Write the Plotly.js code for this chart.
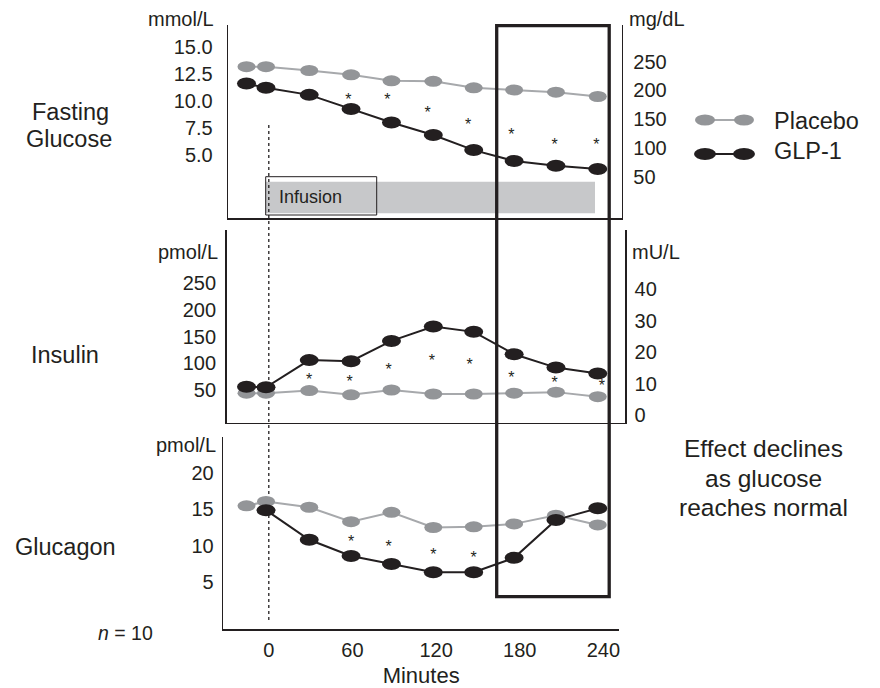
<!DOCTYPE html>
<html><head><meta charset="utf-8">
<script src="https://cdn.plot.ly/plotly-3.0.1.min.js"></script>
<style>html,body{margin:0;padding:0;background:#fff}#chart{width:880px;height:688px}</style>
</head><body><div id="chart"></div>
<script>
// ---------------- data ----------------
const minutes = [-16, -2, 29, 59, 88, 118, 147, 176, 206, 236];
const glucosePlacebo = [13.15, 13.15, 12.8, 12.4, 11.85, 11.8, 11.2, 11.0, 10.8, 10.4];   // mmol/L
const glucoseGLP1    = [11.6, 11.2, 10.55, 9.25, 8.0, 6.85, 5.45, 4.45, 4.0, 3.7];        // mmol/L
const insulinPlacebo = [44, 44, 49, 41, 50, 42.5, 42.5, 44, 46, 37.5];                     // pmol/L
const insulinGLP1    = [56, 55, 106, 104, 142, 169, 159, 117, 92, 81];                     // pmol/L
const glucagonPlacebo = [15.5, 16.1, 15.3, 13.3, 14.6, 12.5, 12.6, 13.0, 14.2, 12.85];     // pmol/L
const glucagonMinutesGLP1 = [-2, 29, 59, 88, 118, 147, 176, 206, 236];
const glucagonGLP1    = [14.9, 10.8, 8.55, 7.45, 6.3, 6.3, 8.3, 13.55, 15.15];             // pmol/L

const glucoseStarMin  = [57, 85, 114, 143, 174, 205, 235];
const glucoseStarVal  = [9.95, 9.95, 8.8, 7.65, 6.73, 5.81, 5.81];
const insulinStarMin  = [29, 58, 86, 117, 144, 174, 205, 239];
const insulinStarVal  = [67, 62.7, 85.7, 102.7, 95.2, 70.2, 60.7, 54.7];
const glucagonStarMin = [59, 86, 118, 147];
const glucagonStarVal = [10.3, 9.65, 8.6, 8.15];

const xTicks = [0, 60, 120, 180, 240];
const glucoseMmolTicks = [5, 7.5, 10, 12.5, 15];
const glucoseMgTicks = [50, 100, 150, 200, 250];
const insulinPmolTicks = [50, 100, 150, 200, 250];
const insulinMUTicks = [0, 10, 20, 30, 40];
const glucagonTicks = [5, 10, 15, 20];
const seriesNames = ['Placebo', 'GLP-1'];

// ---------------- styling / layout helpers ----------------
const W = 880, H = 688;
const INK = '#231f20', GREY_PT = '#939598', GREY_LN = '#a7a9ac', BAR = '#c7c8ca';
const FONT = '"Liberation Sans", Arial, Helvetica, sans-serif';
const TICK = 20;
const fx = p => p / W;
const fy = p => 1 - p / H;
const X0PX = 268.8, XSLOPE = 1.394;          // pixel of minute 0, pixels per minute
const xr = (L, R) => [(L - X0PX) / XSLOPE, (R - X0PX) / XSLOPE];

function lineTrace(x, y, xa, ya, color, name) {
  return {x: x, y: y, xaxis: xa, yaxis: ya, type: 'scatter', mode: 'lines', name: name,
          line: {color: color, width: 2}, hoverinfo: 'skip', showlegend: false};
}
function starTrace(x, y, xa, ya) {
  return {x: x, y: y, xaxis: xa, yaxis: ya, type: 'scatter', mode: 'text',
          text: x.map(() => '*'), textposition: 'middle center',
          textfont: {family: FONT, size: 16, color: INK}, hoverinfo: 'skip', showlegend: false};
}
function ellipses(xs, ys, xref, yref, color, w, h) {
  return xs.map((t, i) => ({type: 'circle', xref: xref, yref: yref,
    xsizemode: 'pixel', ysizemode: 'pixel', xanchor: t, yanchor: ys[i],
    x0: -w / 2, x1: w / 2, y0: -h / 2, y1: h / 2,
    fillcolor: color, line: {width: 0}, layer: 'above'}));
}
function ann(text, px, py, xanchor, size, extra) {
  return Object.assign({text: text, xref: 'paper', yref: 'paper', x: fx(px), y: fy(py),
    xanchor: xanchor, yanchor: 'middle', showarrow: false,
    font: {family: FONT, size: size, color: INK}}, extra || {});
}

const traces = [
  lineTrace(minutes, glucosePlacebo, 'x', 'y', GREY_LN, seriesNames[0]),
  lineTrace(minutes, glucoseGLP1, 'x', 'y', INK, seriesNames[1]),
  starTrace(glucoseStarMin, glucoseStarVal, 'x', 'y'),
  lineTrace(minutes, insulinPlacebo, 'x2', 'y3', GREY_LN, seriesNames[0]),
  lineTrace(minutes, insulinGLP1, 'x2', 'y3', INK, seriesNames[1]),
  starTrace(insulinStarMin, insulinStarVal, 'x2', 'y3'),
  lineTrace(minutes, glucagonPlacebo, 'x3', 'y5', GREY_LN, seriesNames[0]),
  lineTrace(glucagonMinutesGLP1, glucagonGLP1, 'x3', 'y5', INK, seriesNames[1]),
  starTrace(glucagonStarMin, glucagonStarVal, 'x3', 'y5'),
  // invisible traces so the right-hand axes are attached to data
  {x: [minutes[0]], y: [null], xaxis: 'x', yaxis: 'y2', type: 'scatter', mode: 'lines', showlegend: false, hoverinfo: 'skip'},
  {x: [minutes[0]], y: [null], xaxis: 'x2', yaxis: 'y4', type: 'scatter', mode: 'lines', showlegend: false, hoverinfo: 'skip'}
];

const axisCommon = {showline: true, linecolor: INK, linewidth: 1.6, showgrid: false, zeroline: false,
  ticks: '', tickfont: {family: FONT, size: TICK, color: INK}, fixedrange: true};

const layout = {
  width: W, height: H, margin: {l: 0, r: 0, t: 0, b: 0, pad: 0},
  paper_bgcolor: '#fff', plot_bgcolor: 'rgba(0,0,0,0)', showlegend: false,
  font: {family: FONT, color: INK},
  xaxis: Object.assign({}, axisCommon, {domain: [fx(228.3), fx(621.7)], range: xr(228.3, 621.7), anchor: 'y', showticklabels: false}),
  yaxis: Object.assign({}, axisCommon, {domain: [fy(218), fy(25)], range: [-0.817, 17.0], anchor: 'x',
    tickvals: glucoseMmolTicks, tickformat: '.1f', ticklabelstandoff: 10}),
  yaxis2: Object.assign({}, axisCommon, {overlaying: 'y', side: 'right', anchor: 'x', range: [-21.8, 313.8],
    tickvals: glucoseMgTicks, ticklabelstandoff: 6}),
  xaxis2: Object.assign({}, axisCommon, {domain: [fx(226.7), fx(625)], range: xr(226.7, 625), anchor: 'y3', showticklabels: false}),
  yaxis3: Object.assign({}, axisCommon, {domain: [fy(422.7), fy(230)], range: [-11.3, 349.9], anchor: 'x2',
    tickvals: insulinPmolTicks, ticklabelstandoff: 5}),
  yaxis4: Object.assign({}, axisCommon, {overlaying: 'y3', side: 'right', anchor: 'x2', range: [-2.45, 58.87],
    tickvals: insulinMUTicks, ticklabelstandoff: 4}),
  xaxis3: Object.assign({}, axisCommon, {domain: [fx(223.3), fx(619)], range: xr(223.3, 619), anchor: 'y5',
    tickvals: xTicks, ticklabelstandoff: 2,
    title: {text: 'Minutes', font: {family: FONT, size: 22, color: INK}, standoff: 14}}),
  yaxis5: Object.assign({}, axisCommon, {domain: [fy(629), fy(437)], range: [-1.545, 25.02], anchor: 'x3',
    tickvals: glucagonTicks, ticklabelstandoff: 4}),
  shapes: [],
  annotations: []
};

// infusion bar, label box, dashed start line
layout.shapes.push({type: 'rect', xref: 'paper', yref: 'paper', x0: fx(265.7), x1: fx(595), y0: fy(213.3), y1: fy(181.7),
  fillcolor: BAR, line: {width: 0}, layer: 'below'});
layout.shapes.push({type: 'rect', xref: 'paper', yref: 'paper', x0: fx(265.7), x1: fx(376.7), y0: fy(215), y1: fy(176.7),
  fillcolor: 'rgba(0,0,0,0)', line: {width: 1, color: INK}, layer: 'above'});
layout.shapes.push({type: 'line', xref: 'x', yref: 'paper', x0: 0, x1: 0, y0: fy(125), y1: fy(620),
  line: {width: 1.3, color: INK, dash: '3px,3px'}, layer: 'above'});

// markers (ellipses) anchored on the data
layout.shapes.push(...ellipses(minutes, glucosePlacebo, 'x', 'y', GREY_PT, 18, 11));
layout.shapes.push(...ellipses(minutes, glucoseGLP1, 'x', 'y', INK, 19, 12));
layout.shapes.push(...ellipses(minutes, insulinPlacebo, 'x2', 'y3', GREY_PT, 18, 11));
layout.shapes.push(...ellipses(minutes, insulinGLP1, 'x2', 'y3', INK, 19, 12));
layout.shapes.push(...ellipses(minutes, glucagonPlacebo, 'x3', 'y5', GREY_PT, 18, 11));
layout.shapes.push(...ellipses(glucagonMinutesGLP1, glucagonGLP1, 'x3', 'y5', INK, 19, 12));

// highlight box
layout.shapes.push({type: 'rect', xref: 'paper', yref: 'paper', x0: fx(496.7), x1: fx(609.2), y0: fy(596.7), y1: fy(25.7),
  fillcolor: 'rgba(0,0,0,0)', line: {width: 3.3, color: INK}, layer: 'above'});

// custom legend (two ellipses joined by a line)
function legendItem(py, color, lineColor, w, h) {
  layout.shapes.push({type: 'line', xref: 'paper', yref: 'paper', x0: fx(705), x1: fx(744), y0: fy(py), y1: fy(py),
    line: {width: 2, color: lineColor}});
  [705, 744].forEach(px => layout.shapes.push({type: 'circle', xref: 'paper', yref: 'paper',
    x0: fx(px - w / 2), x1: fx(px + w / 2), y0: fy(py + h / 2), y1: fy(py - h / 2), fillcolor: color, line: {width: 0}}));
}
legendItem(120, GREY_PT, GREY_LN, 20, 11);
legendItem(154, INK, INK, 22, 12);
layout.annotations.push(ann(seriesNames[0], 772, 121, 'left', 23.5));
layout.annotations.push(ann(seriesNames[1], 772, 151, 'left', 23.5));

// units, panel labels, notes
layout.annotations.push(ann('mmol/L', 216, 19, 'right', 20));
layout.annotations.push(ann('mg/dL', 627, 19, 'left', 20));
layout.annotations.push(ann('pmol/L', 220, 252, 'right', 20));
layout.annotations.push(ann('mU/L', 630, 252, 'left', 20));
layout.annotations.push(ann('pmol/L', 218, 445, 'right', 20));
layout.annotations.push(ann('Fasting', 70, 112, 'center', 23.5));
layout.annotations.push(ann('Glucose', 69, 139.5, 'center', 23.5));
layout.annotations.push(ann('Insulin', 65, 355, 'center', 23.5));
layout.annotations.push(ann('Glucagon', 65, 547, 'center', 23.5));
layout.annotations.push(ann('<i>n</i> = 10', 125, 633, 'center', 19.5));
layout.annotations.push(ann('Effect declines', 763, 448.5, 'center', 24.5));
layout.annotations.push(ann('as glucose', 763, 478, 'center', 24.5));
layout.annotations.push(ann('reaches normal', 763, 507.5, 'center', 24.5));
layout.annotations.push(ann('Infusion', 277, 197, 'left', 18));

Plotly.newPlot('chart', traces, layout, {staticPlot: true});
</script>
</body></html>
